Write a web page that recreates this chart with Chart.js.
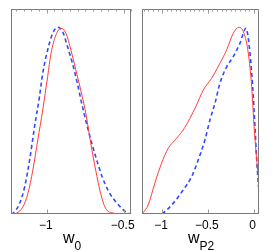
<!DOCTYPE html>
<html>
<head>
<meta charset="utf-8">
<script src="https://cdn.jsdelivr.net/npm/chart.js@4.4.1/dist/chart.umd.min.js"></script>
<style>
  body { margin: 0; background: #fff; }
  #wrap { position: relative; width: 273px; height: 252px; overflow: hidden; }
  canvas { position: absolute; top: 0; }
  .xt { position: absolute; top: 230px; font: 16px "Liberation Sans", Arial, sans-serif; line-height: 16px; color: #000; transform: translateX(-50%); white-space: nowrap; }
  .xt span { font-size: 12px; position: relative; top: 7px; }
</style>
</head>
<body>
<div id="wrap">
  <canvas id="left" width="140" height="252" style="left:0;width:140px;height:252px"></canvas>
  <canvas id="right" width="138" height="252" style="left:135px;width:138px;height:252px"></canvas>
  <div class="xt" style="left:72px">w<span>0</span></div>
  <div class="xt" style="left:201px">w<span>P2</span></div>
</div>
<script>
// w0 panel
const w0Ticks = [-1, -0.5];
const w0RedX = [-1.215, -1.197, -1.154, -1.122, -1.09, -1.058, -1.026, -0.994, -0.972, -0.94, -0.907, -0.875, -0.843, -0.811, -0.779, -0.746, -0.714, -0.682, -0.65, -0.618, -0.564, -0.54];
const w0RedY = [0, 0.004, 0.039, 0.111, 0.236, 0.397, 0.558, 0.737, 0.862, 0.961, 0.996, 0.97, 0.88, 0.773, 0.665, 0.54, 0.379, 0.236, 0.111, 0.031, 0.004, 0];
const w0BlueX = [-1.232, -1.219, -1.176, -1.143, -1.111, -1.079, -1.047, -1.026, -0.994, -0.961, -0.929, -0.897, -0.865, -0.833, -0.801, -0.768, -0.725, -0.682, -0.64, -0.597, -0.543, -0.479, -0.45];
const w0BlueY = [0, 0.004, 0.057, 0.147, 0.29, 0.469, 0.63, 0.755, 0.88, 0.97, 1.002, 0.979, 0.898, 0.809, 0.701, 0.576, 0.433, 0.308, 0.2, 0.12, 0.057, 0.007, 0];

// wP2 panel
const wP2Ticks = [-1, -0.5, 0];
const wP2RedX = [-1.22, -1.208, -1.153, -1.08, -1.007, -0.934, -0.842, -0.77, -0.697, -0.624, -0.551, -0.46, -0.369, -0.295, -0.223, -0.161, -0.106, -0.059, -0.022, 0.007, 0.033, 0.058];
const wP2RedY = [0, 0.007, 0.048, 0.165, 0.272, 0.352, 0.406, 0.451, 0.513, 0.585, 0.665, 0.728, 0.809, 0.881, 0.97, 1.002, 0.97, 0.863, 0.683, 0.451, 0.29, 0.165];
const wP2BlueX = [-1.0, -0.989, -0.88, -0.77, -0.678, -0.606, -0.533, -0.478, -0.423, -0.369, -0.295, -0.223, -0.15, -0.084, -0.048, -0.011, 0.014, 0.033, 0.05, 0.058];
const wP2BlueY = [0, 0.004, 0.057, 0.129, 0.2, 0.29, 0.397, 0.504, 0.594, 0.701, 0.79, 0.844, 0.916, 0.996, 0.898, 0.683, 0.468, 0.29, 0.165, 0.12];

const RED = "#ff3b3b";
const BLUE = "#3048ff";

// draws the gray box and the little inward ticks (MATLAB style)
const framePlugin = {
  id: "frame",
  afterDraw(chart) {
    const { ctx, chartArea: a, scales: { x } } = chart;
    ctx.save();
    ctx.strokeStyle = "#7a7a7a";
    ctx.lineWidth = 1;
    const l = Math.round(a.left) + 0.5, t = Math.round(a.top) + 0.5;
    const r = Math.round(a.right) - 0.5, b = Math.round(a.bottom) - 0.5;
    ctx.strokeRect(l, t, r - l, b - t);
    ctx.strokeStyle = "#999";
    ctx.beginPath();
    for (let i = Math.ceil(x.min * 20); i <= Math.floor(x.max * 20); i++) {
      const px = Math.round(x.getPixelForValue(i / 20)) + 0.5;
      const major = i % 10 === 0;
      const len = major ? 4 : 2;
      ctx.moveTo(px, t); ctx.lineTo(px, t + len);
      if (major) { ctx.moveTo(px, b); ctx.lineTo(px, b - len); }
    }
    ctx.stroke();
    ctx.restore();
  }
};

function pts(xs, ys) {
  return xs.map((v, i) => ({ x: v, y: ys[i] }));
}

function makePanel(id, xMin, xMax, ticks, redX, redY, blueX, blueY, pad) {
  const ctx = document.getElementById(id).getContext("2d");
  return new Chart(ctx, {
    type: "line",
    data: {
      datasets: [
        {
          data: pts(redX, redY),
          borderColor: RED,
          borderWidth: 1,
          pointRadius: 0,
          cubicInterpolationMode: "monotone"
        },
        {
          data: pts(blueX, blueY),
          borderColor: BLUE,
          borderWidth: 1.6,
          borderDash: [4, 3],
          pointRadius: 0,
          cubicInterpolationMode: "monotone"
        }
      ]
    },
    options: {
      responsive: false,
      animation: false,
      layout: { padding: pad },
      plugins: { legend: { display: false }, tooltip: { enabled: false } },
      scales: {
        x: {
          type: "linear",
          min: xMin,
          max: xMax,
          grid: { display: false, drawTicks: false },
          border: { display: false },
          afterBuildTicks: (s) => { s.ticks = ticks.map(v => ({ value: v })); },
          afterFit: (s) => { s.height = 38; },
          ticks: {
            padding: 4,
            labelOffset: -1,
            color: "#000",
            maxRotation: 0,
            font: { family: "'Liberation Sans', Arial, sans-serif", size: 12 },
            callback: (v) => v === 0 ? "0" : (v < 0 ? "\u2212" : "") + Math.abs(v)
          }
        },
        y: { display: false, min: 0, max: 1.1 }
      }
    },
    plugins: [framePlugin]
  });
}

makePanel("left", -1.232, -0.45, w0Ticks, w0RedX, w0RedY, w0BlueX, w0BlueY, { left: 11, right: 7, top: 9, bottom: 0 });
makePanel("right", -1.22, 0.058, wP2Ticks, wP2RedX, wP2RedY, wP2BlueX, wP2BlueY, { left: 7, right: 14, top: 9, bottom: 0 });
</script>
</body>
</html>
